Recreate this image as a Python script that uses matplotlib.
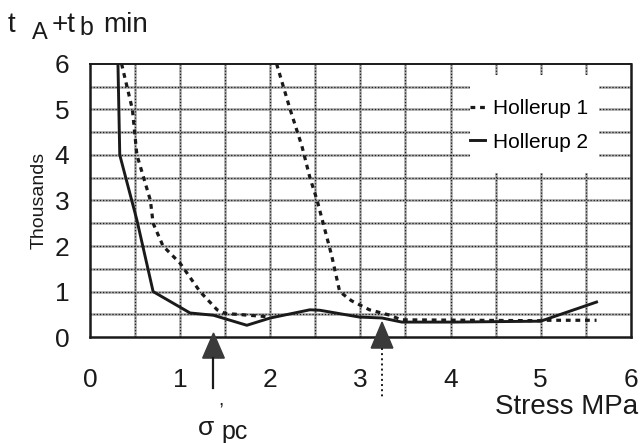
import matplotlib
matplotlib.use('Agg')
import matplotlib.pyplot as plt
import numpy as np

plt.rcParams['font.family'] = ['Liberation Sans', 'DejaVu Sans']

# Hollerup 1 (dotted) - two branches, gap where it leaves the top of the chart
h1_stress = [0.35, 0.47, 0.52, 0.67, 0.70, 0.81, 1.00, 1.22, 1.41, 1.50, 1.96, np.nan,
             2.07, 2.22, 2.35, 2.44, 2.52, 2.64, 2.68, 2.77, 2.90, 3.10, 3.33, 3.45,
             5.00, 5.07, 5.62]
h1_time = [6.0, 5.0, 4.0, 3.0, 2.5, 2.0, 1.62, 1.0, 0.6, 0.52, 0.45, np.nan,
           6.0, 5.0, 4.2, 3.5, 3.0, 2.1, 1.8, 1.0, 0.8, 0.6, 0.48, 0.38,
           0.36, 0.37, 0.37]

# Hollerup 2 (solid)
h2_stress = [0.31, 0.33, 0.52, 0.70, 1.11, 1.37, 1.74, 2.00, 2.44, 2.55, 2.99,
             3.24, 3.46, 4.03, 5.00, 5.62]
h2_time = [6.0, 4.0, 2.57, 1.0, 0.53, 0.48, 0.26, 0.42, 0.60, 0.59, 0.44,
           0.42, 0.33, 0.33, 0.35, 0.77]

# preconsolidation stress markers
sigma_pc = [1.37, 3.24]

fig = plt.figure(figsize=(6.43, 4.43), dpi=100)
ax = fig.add_axes([0.14, 0.239, 0.841, 0.617])

# grid: grey lines with dark dotted on top, every 0.5
grid_x = np.arange(0.5, 6.0, 0.5)
grid_y = np.arange(0.5, 6.0, 0.5)
for gx in grid_x:
    ax.axvline(gx, color='#a8a8a8', lw=1.8, zorder=1)
    ax.axvline(gx, color='#202020', lw=0.9, ls=(0, (1, 1.5)), zorder=1.5)
for gy in grid_y:
    ax.axhline(gy, color='#a8a8a8', lw=1.8, zorder=1)
    ax.axhline(gy, color='#202020', lw=0.9, ls=(0, (1, 1.5)), zorder=1.5)

ax.plot(h1_stress, h1_time, color='#1a1a1a', lw=2.3, ls=(0, (1.5, 1.5)),
        label='Hollerup 1', zorder=3)
ax.plot(h2_stress, h2_time, color='#1a1a1a', lw=2.1, label='Hollerup 2', zorder=3)

ax.set_xlim(0, 6)
ax.set_ylim(0, 6)
ax.set_xticks([0, 1, 2, 3, 4, 5, 6])
ax.set_yticks([0, 1, 2, 3, 4, 5, 6])
ax.tick_params(length=0, labelsize=19, labelcolor='#1a1a1a')
ax.tick_params(axis='x', pad=22)
ax.tick_params(axis='y', pad=15)
for s in ax.spines.values():
    s.set_linewidth(1.8)
    s.set_color('#1a1a1a')
ax.spines['top'].set_linewidth(1.4)

ax.set_ylabel('Thousands', fontsize=14, color='#1a1a1a')
ax.yaxis.set_label_coords(-0.078, 0.5)

# white area behind the legend, covering the grid
ax.add_patch(plt.Rectangle((0.702, 0.601), 0.240, 0.359, transform=ax.transAxes,
                           facecolor='white', edgecolor='none', zorder=3.5))
leg = ax.legend(loc='center left', bbox_to_anchor=(0.702, 0.775), fontsize=15,
                handlelength=0.75, handletextpad=0.35, labelspacing=0.7,
                borderpad=0, borderaxespad=0, frameon=False)
leg.set_zorder(4)

# arrows for sigma'_pc
tri_h = [0.55, 0.57]
line_end = [-1.12, -1.32]
line_styles = ['-', ':']
tops = [0.09, 0.33]
for i, xp in enumerate(sigma_pc):
    top = tops[i]
    base = top - tri_h[i]
    tri = plt.Polygon([[xp - 0.12, base], [xp + 0.12, base], [xp, top]],
                      closed=True, color='#3a3a3a', clip_on=False, zorder=5)
    ax.add_patch(tri)
    ax.plot([xp, xp], [base, line_end[i]], color='#1a1a1a', lw=1.6 if i == 0 else 1.4,
            ls=line_styles[i], clip_on=False, zorder=5)

fig.text(0.308, 0.018, 'σ', fontsize=19, color='#1a1a1a')
fig.text(0.340, 0.085, ',', fontsize=14, color='#1a1a1a')
fig.text(0.345, 0.010, 'pc', fontsize=18, color='#1a1a1a')

fig.text(0.770, 0.065, 'Stress MPa', fontsize=20, color='#1a1a1a')

# y axis title
fig.text(0.012, 0.928, 't', fontsize=20, color='#1a1a1a')
fig.text(0.049, 0.913, 'A', fontsize=17, color='#1a1a1a')
fig.text(0.080, 0.928, '+t', fontsize=20, color='#1a1a1a')
fig.text(0.124, 0.920, 'b', fontsize=18, color='#1a1a1a')
fig.text(0.160, 0.928, 'min', fontsize=20, color='#1a1a1a')

fig.savefig('out.png', dpi=100)
